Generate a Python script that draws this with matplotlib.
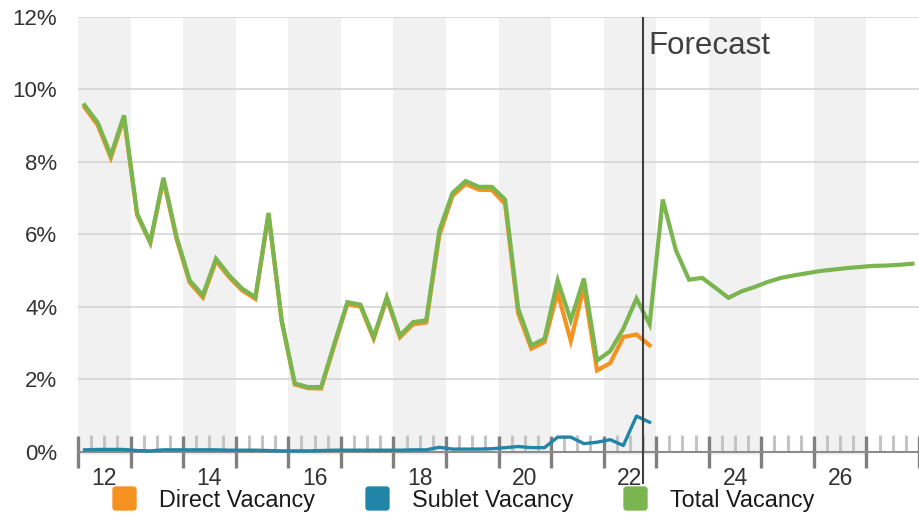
import numpy as np
import matplotlib
matplotlib.use("Agg")
import matplotlib.pyplot as plt
from matplotlib.path import Path
from matplotlib.lines import Line2D
from matplotlib.ticker import FixedLocator, FixedFormatter

plt.rcParams['font.family'] = ['Liberation Sans', 'DejaVu Sans']

# ---------------- data ----------------
start_year = 2012
end_year = 2027
forecast_start = 2022.75          # start of 2022 Q4

total_vacancy = [9.56, 9.08, 8.18, 9.28, 6.57, 5.79, 7.56, 5.93, 4.73, 4.32, 5.33, 4.87, 4.50, 4.27, 6.59, 3.63,
                 1.89, 1.79, 1.79, 2.98, 4.13, 4.06, 3.17, 4.27, 3.21, 3.58, 3.63, 6.11, 7.14, 7.47, 7.31, 7.31,
                 6.96, 3.95, 2.94, 3.12, 4.73, 3.63, 4.78, 2.52, 2.78, 3.40, 4.23, 3.52,
                 6.96, 5.56, 4.75, 4.80, 4.53, 4.25, 4.43, 4.55, 4.69, 4.80, 4.87, 4.93, 4.99, 5.03, 5.07, 5.10,
                 5.13, 5.14, 5.16, 5.19]
direct_vacancy = [9.50, 9.01, 8.11, 9.21, 6.53, 5.76, 7.50, 5.87, 4.67, 4.26, 5.27, 4.82, 4.45, 4.22, 6.55, 3.60,
                  1.86, 1.76, 1.75, 2.93, 4.08, 4.01, 3.12, 4.22, 3.16, 3.52, 3.57, 5.98, 7.06, 7.39, 7.23, 7.22,
                  6.84, 3.82, 2.85, 3.03, 4.40, 3.06, 4.55, 2.25, 2.45, 3.17, 3.24, 2.94]
sublet_vacancy = [0.06, 0.07, 0.07, 0.07, 0.04, 0.03, 0.06, 0.06, 0.06, 0.06, 0.06, 0.05, 0.05, 0.05, 0.04, 0.03,
                  0.03, 0.03, 0.04, 0.05, 0.05, 0.05, 0.05, 0.05, 0.05, 0.06, 0.06, 0.13, 0.08, 0.08, 0.08, 0.09,
                  0.12, 0.15, 0.12, 0.12, 0.41, 0.41, 0.23, 0.27, 0.34, 0.18, 0.99, 0.82]
y_ticks = [0, 2, 4, 6, 8, 10, 12]
y_tick_labels = ["0%", "2%", "4%", "6%", "8%", "10%", "12%"]
year_labels = ["12", "14", "16", "18", "20", "22", "24", "26"]
series_names = ["Direct Vacancy", "Sublet Vacancy", "Total Vacancy"]

# ---------------- style ----------------
c_direct = "#f5911e"
c_sublet = "#2085a7"
c_total = "#7ab54f"

# quarter mid-points in decimal years
quarters = np.arange(start_year, end_year + 1, 0.25)
x_all = quarters + 0.125

fig = plt.figure(figsize=(9.19, 5.14), dpi=100)
W, H = 919, 514
ax = fig.add_axes([78 / W, 1 - 452 / H, 1 - 78 / W, (452 - 16.7) / H])
ax.set_xlim(start_year, end_year + 1)
ax.set_ylim(0, 12)

# alternating year bands
for yr in range(start_year, end_year + 1, 2):
    ax.axvspan(yr, yr + 1, ymin=-0.008, ymax=1, color="#f1f1f1", lw=0, zorder=0, clip_on=False)

# grid
ax.set_yticks(y_ticks)
ax.set_yticklabels(y_tick_labels)
ax.yaxis.grid(True, color="#d2d2d2", lw=1.1, zorder=1)
ax.set_axisbelow(True)

# series
ax.plot(x_all[:len(direct_vacancy)], direct_vacancy, color=c_direct, lw=3.0, zorder=3,
        solid_joinstyle="miter")
ax.plot(x_all[:len(total_vacancy)], total_vacancy, color=c_total, lw=3.0, zorder=4,
        solid_joinstyle="miter")
ax.plot(x_all[:len(sublet_vacancy)], sublet_vacancy, color=c_sublet, lw=2.4, zorder=5,
        clip_on=False)

# forecast line
ax.axvline(forecast_start, ymin=-0.072, ymax=0.997, color="#404040", lw=1.5, zorder=6, clip_on=False)
ax.annotate("Forecast", xy=(forecast_start, 12), xycoords="data", xytext=(4.0, -27),
            textcoords="offset points", ha="left", va="baseline", fontsize=22.5, color="#404040")

# spines
for s in ["left", "top", "right"]:
    ax.spines[s].set_visible(False)
ax.spines["bottom"].set_color("#8c8c8c")
ax.spines["bottom"].set_linewidth(1.5)
ax.spines["bottom"].set_zorder(2)

# ticks
ax.tick_params(axis="y", length=0, pad=15, labelsize=16, labelcolor="#333333")
ax.xaxis.set_major_locator(FixedLocator(np.arange(start_year, end_year + 2, 1)))
ax.xaxis.set_major_formatter(FixedFormatter([]))
minor_pos = [q for q in quarters if abs(q - round(q)) > 1e-6]
label_map = {start_year + 2 * i + 0.5: lab for i, lab in enumerate(year_labels)}
minor_labels = [label_map.get(q, "") for q in minor_pos]
ax.xaxis.set_minor_locator(FixedLocator(minor_pos))
ax.xaxis.set_minor_formatter(FixedFormatter(minor_labels))
ax.tick_params(axis="x", which="major", direction="inout", length=22.5, width=2.4,
               color="#808080", labelbottom=False)
ax.tick_params(axis="x", which="minor", direction="in", length=12, width=2.2,
               color="#c4c4c4", pad=11, labelsize=16.5, labelcolor="#333333")

# legend with rounded-square markers
def rounded_square(r=0.22, n=6):
    verts = []
    corners = [(1 - r, 1 - r, 0), (-1 + r, 1 - r, 90), (-1 + r, -1 + r, 180), (1 - r, -1 + r, 270)]
    for cx, cy, a0 in corners:
        for a in np.linspace(np.radians(a0), np.radians(a0 + 90), n):
            verts.append((cx + r * np.cos(a), cy + r * np.sin(a)))
    verts.append(verts[0])
    codes = [Path.MOVETO] + [Path.LINETO] * (len(verts) - 2) + [Path.CLOSEPOLY]
    return Path(verts, codes)

marker = rounded_square()
handles = [Line2D([], [], ls="none", marker=marker, markersize=16.5, markerfacecolor=c,
                  markeredgecolor=c)
           for c in [c_direct, c_sublet, c_total]]
fig.legend(handles, series_names, loc="center", bbox_to_anchor=(0.504, 1 - 500 / H), ncol=3,
           frameon=False, fontsize=16.8, handlelength=1.05, handletextpad=0.95, columnspacing=2.15,
           labelcolor="#1a1a1a", borderpad=0, borderaxespad=0)

fig.savefig("out.png", dpi=100)
